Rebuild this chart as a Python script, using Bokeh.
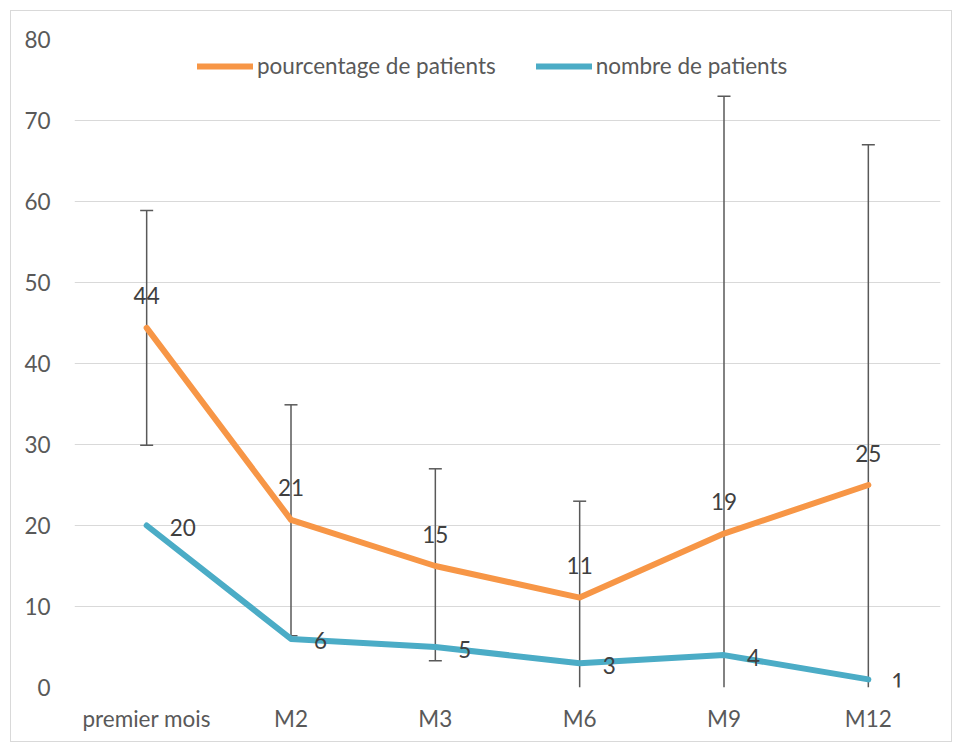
from bokeh.plotting import figure
from bokeh.layouts import column
from bokeh.models import (FactorRange, Range1d, FixedTicker, ColumnDataSource,
                          Whisker, TeeHead, Legend, LegendItem)
from bokeh.core.properties import value
from bokeh.embed import file_html
from bokeh.resources import INLINE

categories = ["premier mois", "M2", "M3", "M6", "M9", "M12"]
pourcentage = [44.4, 20.7, 15.0, 11.1, 19.0, 25.0]
pourcentage_labels = ["44", "21", "15", "11", "19", "25"]
nombre = [20, 6, 5, 3, 4, 1]
nombre_labels = ["20", "6", "5", "3", "4", "1"]
err_lower = [29.9, 6.4, 3.3, 0, 0, 0]
err_upper = [58.9, 34.9, 27.0, 23.0, 73.0, 67.0]
y_ticks = [0, 10, 20, 30, 40, 50, 60, 70, 80]

FONT = "Lato"
FS = "22.5px"
ORANGE = "#F79646"
BLUE = "#4BACC6"
GRID = "#d9d9d9"
AXIS_TXT = "#595959"
LBL_TXT = "#404040"

p = figure(width=940, height=730, x_range=FactorRange(*categories),
           y_range=Range1d(0, 80), output_backend="svg", toolbar_location=None,
           min_border_left=63, min_border_right=11, min_border_top=28,
           min_border_bottom=54)
p.outline_line_color = None

p.xgrid.grid_line_color = None
p.ygrid.grid_line_color = GRID
p.ygrid.grid_line_width = 1
p.yaxis.ticker = FixedTicker(ticks=y_ticks)
for ax in (p.xaxis, p.yaxis):
    ax.axis_line_color = None
    ax.major_tick_line_color = None
    ax.minor_tick_line_color = None
    ax.major_label_text_font = FONT
    ax.major_label_text_font_size = FS
    ax.major_label_text_color = AXIS_TXT
p.yaxis.major_label_standoff = 18
p.xaxis.major_label_standoff = 11

# error bars
src_all = ColumnDataSource(dict(x=categories, lo=err_lower, hi=err_upper))
lo_x = [c for c, l in zip(categories, err_lower) if l > 0]
lo_v = [l for l in err_lower if l > 0]
src_lo = ColumnDataSource(dict(x=lo_x, lo=lo_v, hi=lo_v))
p.add_layout(Whisker(source=src_all, base="x", lower="lo", upper="hi",
                     line_color=AXIS_TXT, line_width=1.5,
                     upper_head=TeeHead(size=13, line_color=AXIS_TXT, line_width=1.5),
                     lower_head=None))
p.add_layout(Whisker(source=src_lo, base="x", lower="lo", upper="hi",
                     line_color=AXIS_TXT, line_width=0, line_alpha=0,
                     upper_head=None,
                     lower_head=TeeHead(size=13, line_color=AXIS_TXT, line_width=1.5)))

src = ColumnDataSource(dict(x=categories, p=pourcentage, pl=pourcentage_labels,
                            n=nombre, nl=nombre_labels))
r1 = p.line("x", "p", source=src, line_color=ORANGE, line_width=6, line_cap="round", line_join="round")
r2 = p.line("x", "n", source=src, line_color=BLUE, line_width=6, line_cap="round", line_join="round")

p.text("x", "p", text="pl", source=src, text_font=value(FONT), text_font_size=FS,
       text_color=LBL_TXT, text_align="center", text_baseline="middle", y_offset=-32)
p.text("x", "n", text="nl", source=src, text_font=value(FONT), text_font_size=FS,
       text_color=LBL_TXT, text_align="left", text_baseline="middle", x_offset=23, y_offset=2)

legend = Legend(items=[LegendItem(label="pourcentage de patients", renderers=[r1]),
                       LegendItem(label="nombre de patients", renderers=[r2])],
                orientation="horizontal", location=(123, 608))
legend.label_text_font = FONT
legend.label_text_font_size = FS
legend.label_text_color = AXIS_TXT
legend.glyph_width = 56
legend.glyph_height = 20
legend.label_standoff = 4
legend.spacing = 40
legend.padding = 0
legend.margin = 0
legend.border_line_color = None
legend.background_fill_alpha = 0
p.add_layout(legend)

layout = column(p, margin=(10, 0, 0, 10), styles={"border": "1px solid #d9d9d9"})

open("out.html", "w").write(file_html(layout, INLINE))
